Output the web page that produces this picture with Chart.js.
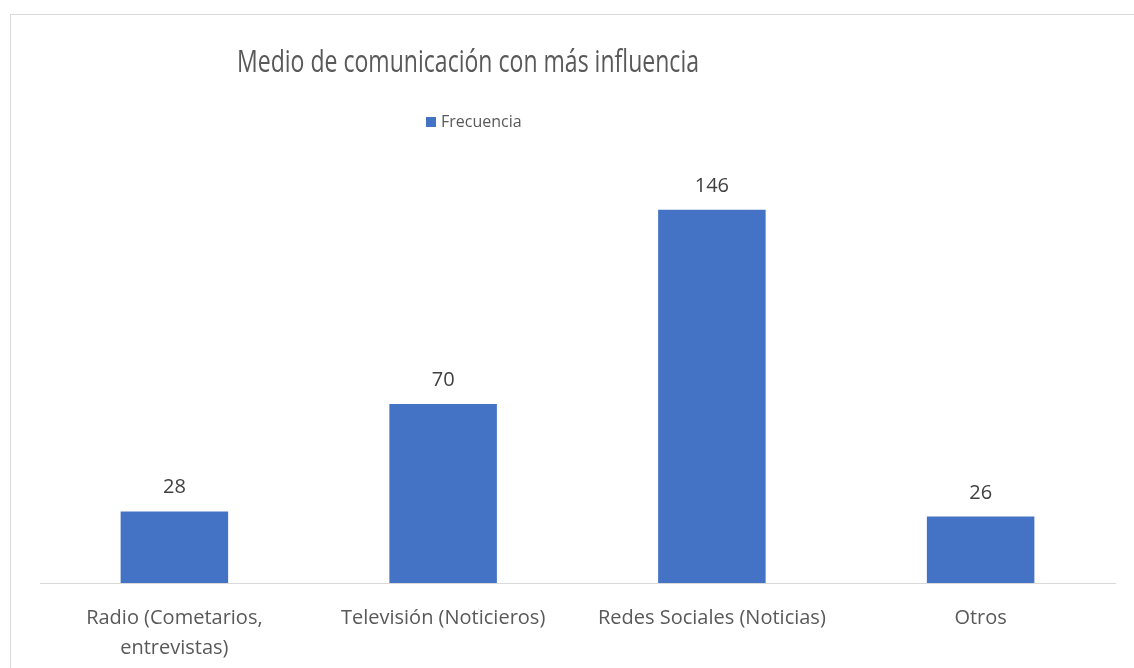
<!DOCTYPE html>
<html>
<head>
<meta charset="utf-8">
<script src="https://cdn.jsdelivr.net/npm/chart.js@4.4.0/dist/chart.umd.min.js"></script>
<style>
    html, body { margin: 0; padding: 0; background: #ffffff; }
    #wrap { position: relative; width: 1134px; height: 668px; overflow: hidden; }
    #frame { position: absolute; left: 10px; top: 14px; width: 1200px; height: 700px;
             border-top: 1px solid #d9d9d9; border-left: 1px solid #d9d9d9; }
    #myChart { position: absolute; left: 0; top: 0; }
</style>
</head>
<body>
<div id="wrap">
    <div id="frame"></div>
    <canvas id="myChart" width="1134" height="668"></canvas>
</div>
<script>
var chartTitle = 'Medio de comunicación con más influencia';
var seriesName = 'Frecuencia';
var categories = [['Radio (Cometarios,', 'entrevistas)'], 'Televisión (Noticieros)', 'Redes Sociales (Noticias)', 'Otros'];
var frecuencia = [28, 70, 146, 26];

var barColor = '#4472c4';
var textColor = '#595959';
var fontFamily = '"Open Sans", "Liberation Sans", sans-serif';

// title + legend, centred like the original sheet chart
var headerPlugin = {
    id: 'header',
    afterDraw: function (chart) {
        var ctx = chart.ctx;
        ctx.save();
        ctx.fillStyle = textColor;
        ctx.font = '31px ' + fontFamily;
        ctx.textAlign = 'center';
        ctx.textBaseline = 'alphabetic';
        // squeeze a bit so it has the narrow look of the original font
        var w = ctx.measureText(chartTitle).width;
        var sx = Math.min(1, 462 / w);
        ctx.translate(468, 72);
        ctx.scale(sx, 1);
        ctx.fillText(chartTitle, 0, 0);
        ctx.restore();

        ctx.save();
        ctx.fillStyle = barColor;
        ctx.fillRect(426, 117, 10, 10);
        ctx.fillStyle = textColor;
        ctx.font = '16px ' + fontFamily;
        ctx.textAlign = 'left';
        ctx.textBaseline = 'middle';
        ctx.fillText(seriesName, 441, 122);
        ctx.restore();
    }
};

// value labels above each bar
var valueLabels = {
    id: 'valueLabels',
    afterDatasetsDraw: function (chart) {
        var ctx = chart.ctx;
        var meta = chart.getDatasetMeta(0);
        ctx.save();
        ctx.fillStyle = '#404040';
        ctx.font = '20px ' + fontFamily;
        ctx.textAlign = 'center';
        ctx.textBaseline = 'alphabetic';
        meta.data.forEach(function (bar, i) {
            ctx.fillText(String(chart.data.datasets[0].data[i]), bar.x, bar.y - 18);
        });
        ctx.restore();
    }
};

var ctx = document.getElementById('myChart').getContext('2d');
var myChart = new Chart(ctx, {
    type: 'bar',
    data: {
        labels: categories,
        datasets: [{
            label: seriesName,
            data: frecuencia,
            backgroundColor: barColor,
            borderWidth: 0,
            categoryPercentage: 1,
            barPercentage: 0.4
        }]
    },
    options: {
        responsive: false,
        animation: false,
        layout: {
            padding: { top: 174, left: 40, right: 19, bottom: 0 }
        },
        plugins: {
            legend: { display: false },
            title: { display: false },
            tooltip: { enabled: false }
        },
        scales: {
            x: {
                grid: { display: false, drawTicks: false },
                border: { display: true, color: '#d9d9d9', width: 1 },
                ticks: {
                    color: textColor,
                    padding: 20,
                    maxRotation: 0,
                    autoSkip: false,
                    font: { family: fontFamily, size: 20, lineHeight: 1.5 }
                },
                afterFit: function (scale) {
                    scale.height = 668 - 583;
                }
            },
            y: {
                display: false,
                min: 0,
                max: 160
            }
        }
    },
    plugins: [headerPlugin, valueLabels]
});
</script>
</body>
</html>
